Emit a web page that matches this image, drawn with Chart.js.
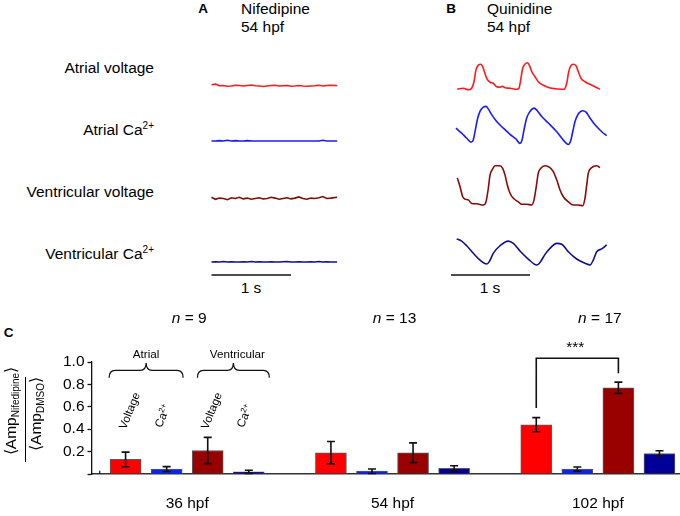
<!DOCTYPE html>
<html><head><meta charset="utf-8">
<script src="https://cdn.jsdelivr.net/npm/chart.js@4.4.0/dist/chart.umd.min.js"></script>
<style>
html,body{margin:0;padding:0;background:#fff;}
#fig{position:relative;width:680px;height:516px;overflow:hidden;font-family:"Liberation Sans",Arial,Helvetica,sans-serif;color:#000;}
.t{position:absolute;font-size:15.5px;line-height:1;white-space:nowrap;}
.b{font-weight:bold;font-size:13.5px;}
sup{font-size:10px;vertical-align:6px;line-height:0;}
canvas{position:absolute;}
</style></head><body>
<div id="fig"></div>
<script>
// ---------------- DATA ----------------
// Panel A (Nifedipine, 54 hpf): time (s) and normalised amplitude
const aTime = [0,0.05,0.10,0.15,0.20,0.25,0.30,0.35,0.40,0.45,0.50,0.55,0.60,0.65,0.70,0.75,0.80,0.85,0.90,0.95,1.00,1.05,1.10,1.15,1.20,1.25,1.30,1.35,1.40,1.45,1.50,1.58];
const aAtrialVoltage = [0.05,0.07,0.01,0.02,-0.01,0.00,0.03,0.02,0.00,0.02,0.04,0.01,0.00,-0.02,0.00,0.02,0.03,0.00,0.01,0.02,-0.01,0.00,0.02,0.00,-0.01,0.00,0.01,0.03,0.00,0.02,0.03,0.02];
const aAtrialCa = [0.00,0.00,0.01,0.00,0.02,0.00,0.01,0.00,0.00,0.01,0.00,0.00,0.00,0.00,0.00,0.00,0.00,0.00,0.00,0.00,0.00,0.00,0.00,0.00,0.00,0.00,0.00,0.00,0.02,0.00,0.00,0.00];
const aVentricularVoltage = [0.03,-0.02,0.01,0.00,-0.03,0.02,0.00,0.03,-0.01,0.01,-0.02,0.00,0.02,-0.01,0.00,0.03,0.01,-0.02,0.00,0.02,-0.01,0.01,0.04,0.00,-0.02,0.01,0.00,0.02,0.05,0.00,0.01,0.03];
const aVentricularCa = [0.00,0.01,0.00,0.02,0.00,0.01,0.00,0.00,0.01,0.00,0.02,0.00,0.01,0.00,0.00,0.01,0.00,0.00,0.01,0.02,0.00,0.00,0.01,0.00,0.00,0.01,0.00,0.02,0.00,0.01,0.00,0.00];

// Panel B (Quinidine, 54 hpf)
const bAtrialVoltageT = [0.080,0.156,0.219,0.262,0.291,0.316,0.346,0.376,0.401,0.422,0.452,0.494,0.535,0.578,0.620,0.654,0.684,0.747,0.832,0.861,0.882,0.908,0.937,0.966,0.991,1.022,1.063,1.105,1.148,1.211,1.275,1.358,1.430,1.465,1.490,1.515,1.548,1.582,1.611,1.646,1.696,1.759,1.823,1.886];
const bAtrialVoltage = [-0.01,0.03,-0.03,0.03,0.28,0.73,0.92,0.95,0.86,0.67,0.41,0.26,0.22,0.09,0.07,0.10,0.05,0.03,-0.01,0.03,0.35,0.80,0.96,1.01,0.92,0.67,0.47,0.28,0.18,0.09,0.03,0.00,-0.01,0.22,0.67,0.88,0.95,0.90,0.67,0.41,0.28,0.18,0.09,-0.01];
const bAtrialCaT = [0.063,0.135,0.199,0.253,0.282,0.308,0.333,0.367,0.409,0.443,0.472,0.515,0.578,0.662,0.747,0.823,0.873,0.899,0.924,0.958,1.000,1.051,1.092,1.148,1.232,1.338,1.422,1.485,1.515,1.541,1.570,1.611,1.667,1.709,1.759,1.823,1.908,1.971];
const bAtrialCa = [0.41,0.27,0.13,0.02,0.08,0.36,0.64,0.87,0.99,1.01,0.94,0.78,0.59,0.41,0.24,0.11,-0.01,0.08,0.36,0.69,0.87,0.96,0.89,0.73,0.55,0.31,0.08,-0.04,0.06,0.31,0.59,0.80,0.89,0.85,0.69,0.50,0.31,0.20];
const bVentricularVoltageT = [0.080,0.114,0.148,0.177,0.219,0.262,0.325,0.409,0.443,0.472,0.494,0.528,0.557,0.620,0.654,0.684,0.713,0.747,0.789,0.852,0.895,0.958,1.022,1.051,1.076,1.105,1.135,1.190,1.253,1.295,1.338,1.380,1.422,1.485,1.548,1.611,1.667,1.696,1.718,1.738,1.781,1.844,1.886];
const bVentricularVoltage = [0.69,0.47,0.21,0.15,0.13,0.04,0.03,0.00,0.08,0.42,0.76,0.92,1.00,1.00,0.93,0.76,0.51,0.30,0.17,0.08,0.02,0.02,0.00,0.13,0.42,0.81,0.93,1.00,0.95,0.85,0.64,0.38,0.21,0.08,0.00,0.00,-0.02,0.17,0.51,0.81,0.95,1.00,0.95];
const bVentricularCaT = [0.072,0.135,0.199,0.282,0.367,0.452,0.485,0.535,0.620,0.725,0.789,0.873,0.978,1.085,1.127,1.190,1.253,1.338,1.401,1.485,1.591,1.696,1.759,1.801,1.844,1.908,1.971];
const bVentricularCa = [1.00,0.92,0.74,0.45,0.19,0.04,0.13,0.45,0.74,0.92,0.83,0.54,0.23,0.00,0.10,0.41,0.64,0.83,0.80,0.51,0.23,0.07,0.00,0.19,0.51,0.62,0.77];

// Panel C: <Amp Nifedipine>/<Amp DMSO>
const groups = ['36 hpf','54 hpf','102 hpf'];
const nValues = ['9','13','17'];
const seriesNames = ['Atrial voltage','Atrial Ca2+','Ventricular voltage','Ventricular Ca2+'];
const atrialVoltage = [0.13, 0.19, 0.44];
const atrialVoltageErr = [0.065, 0.10, 0.063];
const atrialCa = [0.044, 0.025, 0.044];
const atrialCaErr = [0.022, 0.02, 0.018];
const ventricularVoltage = [0.21, 0.19, 0.77];
const ventricularVoltageErr = [0.117, 0.088, 0.05];
const ventricularCa = [0.02, 0.05, 0.183];
const ventricularCaErr = [0.014, 0.024, 0.025];
const yTicks = [0.2, 0.4, 0.6, 0.8, 1.0];

// ---------------- LAYOUT / STYLE ----------------
const FONT = '"Liberation Sans", Arial, Helvetica, sans-serif';
Chart.defaults.font.family = FONT;
const fig = document.getElementById('fig');

function addText(html, x, y, anchor, extraClass, style) {
  const d = document.createElement('div');
  d.className = 't' + (extraClass ? ' ' + extraClass : '');
  d.innerHTML = html;
  d.style.left = x + 'px';
  d.style.top = y + 'px';
  const tx = anchor === 'l' ? '0' : anchor === 'r' ? '-100%' : '-50%';
  d.style.transform = 'translate(' + tx + ',-50%)' + (style && style.rotate ? ' rotate(' + style.rotate + 'deg)' : '');
  if (style && style.size) d.style.fontSize = style.size + 'px';
  fig.appendChild(d);
  return d;
}

// Headers
addText('A', 203, 8.5, 'c', 'b');
addText('Nifedipine', 241, 8.5, 'l');
addText('54 hpf', 241, 27, 'l');
addText('B', 451, 8.5, 'c', 'b');
addText('Quinidine', 487, 8.5, 'l');
addText('54 hpf', 487, 27, 'l');
// Row labels
addText('Atrial voltage', 154, 67.5, 'r');
addText('Atrial Ca<sup>2+</sup>', 154, 129.5, 'r');
addText('Ventricular voltage', 154, 191.5, 'r');
addText('Ventricular Ca<sup>2+</sup>', 154, 253.5, 'r');
addText('1 s', 251, 288, 'c');
addText('1 s', 490, 288, 'c');
addText('C', 8.5, 332.5, 'c', 'b');

// trace panels: pixel of t=0 and pixels per second; baseline pixel of each row
const panels = {
  A: {x0: 211.5, pps: 79.5, left: 205, width: 140, zero: [86, 141, 198.5, 262]},
  B: {x0: 451, pps: 79, left: 445, width: 172, zero: [89, 143, 205, 265]}
};
const rows = [
  {amp: 26, top: 46, bottom: 100},
  {amp: 36.3, top: 98, bottom: 152},
  {amp: 39.3, top: 156, bottom: 214},
  {amp: 26, top: 230, bottom: 282}
];
const scaleBarY = 275;

const scaleBarPlugin = {
  id: 'scaleBar',
  afterDraw(chart, args, opts) {
    if (!opts.show) return;
    const ctx = chart.ctx, x = chart.scales.x;
    ctx.save();
    ctx.strokeStyle = '#111';
    ctx.lineWidth = 1.6;
    ctx.beginPath();
    ctx.moveTo(x.getPixelForValue(0), opts.y);
    ctx.lineTo(x.getPixelForValue(1), opts.y);
    ctx.stroke();
    ctx.restore();
  }
};

function traceChart(panelKey, rowIdx, times, values, color, smooth) {
  const p = panels[panelKey], r = rows[rowIdx];
  const h = r.bottom - r.top;
  const c = document.createElement('canvas');
  c.width = p.width; c.height = h;
  c.style.left = p.left + 'px'; c.style.top = r.top + 'px';
  c.style.width = p.width + 'px'; c.style.height = h + 'px';
  fig.appendChild(c);
  const zero = p.zero[rowIdx];
  new Chart(c, {
    type: 'line',
    data: {datasets: [{
      data: times.map((t, i) => ({x: t, y: values[i]})),
      borderColor: color, borderWidth: 1.6, pointRadius: 0,
      cubicInterpolationMode: smooth ? 'monotone' : 'default', tension: 0,
      clip: false, fill: false
    }]},
    options: {
      responsive: false, animation: false, events: [],
      layout: {padding: 0},
      plugins: {legend: {display: false}, tooltip: {enabled: false},
        scaleBar: {show: rowIdx === 3, y: scaleBarY - r.top}},
      scales: {
        x: {type: 'linear', display: false, min: (p.left - p.x0) / p.pps, max: (p.left + p.width - p.x0) / p.pps},
        y: {display: false, min: (zero - r.bottom) / r.amp, max: (zero - r.top) / r.amp}
      }
    },
    plugins: [scaleBarPlugin]
  });
}

const traceColors = ['#ff1a1a', '#1a1aff', '#8a0a0a', '#10108e'];
traceChart('A', 0, aTime, aAtrialVoltage, traceColors[0], false);
traceChart('A', 1, aTime, aAtrialCa, traceColors[1], false);
traceChart('A', 2, aTime, aVentricularVoltage, traceColors[2], false);
traceChart('A', 3, aTime, aVentricularCa, traceColors[3], false);
traceChart('B', 0, bAtrialVoltageT, bAtrialVoltage, traceColors[0], true);
traceChart('B', 1, bAtrialCaT, bAtrialCa, traceColors[1], true);
traceChart('B', 2, bVentricularVoltageT, bVentricularVoltage, traceColors[2], true);
traceChart('B', 3, bVentricularCaT, bVentricularCa, traceColors[3], true);

// ---------------- BAR CHART ----------------
const seriesValues = [atrialVoltage, atrialCa, ventricularVoltage, ventricularCa];
const seriesErrors = [atrialVoltageErr, atrialCaErr, ventricularVoltageErr, ventricularCaErr];
const barColors = ['#ff0000', '#0a22ff', '#990000', '#000099'];
const slotsPerGroup = 5;
const barTop = 300;

const annotPlugin = {
  id: 'annot',
  afterDatasetsDraw(chart) {
    const ctx = chart.ctx, y = chart.scales.y, x = chart.scales.x;
    ctx.save();
    ctx.strokeStyle = '#111';
    ctx.lineWidth = 1.6;
    // error bars
    chart.data.datasets.forEach((ds, s) => {
      chart.getDatasetMeta(s).data.forEach((bar, g) => {
        const m = seriesValues[s][g], e = seriesErrors[s][g];
        const yt = y.getPixelForValue(m + e), yb = y.getPixelForValue(Math.max(m - e, 0));
        ctx.beginPath();
        ctx.moveTo(bar.x, yt); ctx.lineTo(bar.x, yb);
        ctx.moveTo(bar.x - 4, yt); ctx.lineTo(bar.x + 4, yt);
        ctx.moveTo(bar.x - 4, yb); ctx.lineTo(bar.x + 4, yb);
        ctx.stroke();
      });
    });
    // braces over the first group
    ctx.lineWidth = 1.3;
    const yTip = y.getPixelForValue(0.99), yMid = y.getPixelForValue(0.925), yArm = y.getPixelForValue(0.86);
    [[-0.4, 1.4], [1.75, 3.5]].forEach(([a, b]) => {
      const x1 = x.getPixelForValue(a), x2 = x.getPixelForValue(b), xm = (x1 + x2) / 2, r = 6;
      ctx.beginPath();
      ctx.moveTo(x1, yArm);
      ctx.quadraticCurveTo(x1, yMid, x1 + r, yMid);
      ctx.lineTo(xm - r, yMid);
      ctx.quadraticCurveTo(xm, yMid, xm, yTip);
      ctx.quadraticCurveTo(xm, yMid, xm + r, yMid);
      ctx.lineTo(x2 - r, yMid);
      ctx.quadraticCurveTo(x2, yMid, x2, yArm);
      ctx.stroke();
    });
    // significance bracket (102 hpf atrial vs ventricular voltage)
    const m0 = chart.getDatasetMeta(0).data[2], m2 = chart.getDatasetMeta(2).data[2];
    ctx.lineWidth = 1.6;
    ctx.beginPath();
    ctx.moveTo(m0.x, y.getPixelForValue(0.59));
    ctx.lineTo(m0.x, y.getPixelForValue(1.033));
    ctx.lineTo(m2.x, y.getPixelForValue(1.033));
    ctx.lineTo(m2.x, y.getPixelForValue(0.9));
    ctx.stroke();
    // small tick on the baseline near the axis
    ctx.lineWidth = 1.2;
    ctx.beginPath();
    ctx.moveTo(x.getPixelForValue(-0.63), y.getPixelForValue(0));
    ctx.lineTo(x.getPixelForValue(-0.63), y.getPixelForValue(0.03));
    ctx.stroke();
    ctx.restore();
  }
};

const bc = document.createElement('canvas');
bc.width = 680; bc.height = 216;
bc.style.left = '0px'; bc.style.top = barTop + 'px';
bc.style.width = '680px'; bc.style.height = '216px';
fig.appendChild(bc);

const barChart = new Chart(bc, {
  type: 'bar',
  data: {datasets: seriesValues.map((vals, s) => ({
    label: seriesNames[s],
    data: vals.map((v, g) => ({x: g * slotsPerGroup + s, y: v})),
    backgroundColor: barColors[s],
    borderColor: '#5a5a5a', borderWidth: 1,
    barThickness: 31, grouped: false
  }))},
  options: {
    responsive: false, animation: false, events: [],
    layout: {padding: {top: 62, left: 0, right: 0, bottom: 34}},
    plugins: {legend: {display: false}, tooltip: {enabled: false}},
    scales: {
      x: {type: 'linear', min: -0.83, max: 13.5, offset: false, display: true,
          ticks: {display: false}, grid: {display: false},
          border: {display: true, color: '#333', width: 1.5}},
      y: {min: 0, max: 1, afterFit: s => { s.width = 91.5; },
          afterBuildTicks: s => { s.ticks = [0].concat(yTicks).map(v => ({value: v})); },
          ticks: {callback: v => v === 0 ? '' : v.toFixed(1), font: {size: 15.5}, color: '#000', padding: 3},
          grid: {drawOnChartArea: false, tickLength: 4, tickColor: '#111', tickWidth: 1.3},
          border: {display: true, color: '#111', width: 1.3}}
    }
  },
  plugins: [annotPlugin]
});

// text annotations of panel C, placed with the chart's scales
const xs = barChart.scales.x, ys = barChart.scales.y;
groups.forEach((g, i) => {
  const cx = xs.getPixelForValue(i * slotsPerGroup + 1.5);
  addText(g, cx, 503, 'c');
  addText('<i>n</i> = ' + nValues[i], cx + 2, 318, 'c');
});
const braceLabels = [['Atrial', 0.5, 0], ['Ventricular', 2.625, 4]];
braceLabels.forEach(([lbl, v, dx]) => addText(lbl, xs.getPixelForValue(v) + dx, barTop + ys.getPixelForValue(1.075), 'c', '', {size: 11.7}));
const barSubLabels = ['Voltage', 'Ca<sup style="font-size:8px;vertical-align:4px">2+</sup>', 'Voltage', 'Ca<sup style="font-size:8px;vertical-align:4px">2+</sup>'];
barSubLabels.forEach((lbl, s) => {
  const bx = barChart.getDatasetMeta(s).data[0].x;
  const dx = s % 2 === 0 ? 4 : -4;
  const yv = s % 2 === 0 ? 0.56 : 0.52;
  addText(lbl, bx + dx, barTop + ys.getPixelForValue(yv), 'c', '', {size: 11.5, rotate: -68});
});
{
  const m0 = barChart.getDatasetMeta(0).data[2], m2 = barChart.getDatasetMeta(2).data[2];
  addText('***', (m0.x + m2.x) / 2 - 2, barTop + ys.getPixelForValue(1.13), 'c');
}
// y axis title: <Amp_Nifedipine> / <Amp_DMSO>
addText('\u27E8Amp<span style="font-size:10px;position:relative;top:3px">Nifedipine</span>\u27E9', 11, 411, 'c', '', {rotate: -90});
addText('\u27E8Amp<span style="font-size:10px;position:relative;top:3px">DMSO</span>\u27E9', 36, 414, 'c', '', {rotate: -90});
const fr = document.createElement('div');
fr.style.cssText = 'position:absolute;left:24.5px;top:377px;width:1.3px;height:85px;background:#000;';
fig.appendChild(fr);
</script>
</body></html>
